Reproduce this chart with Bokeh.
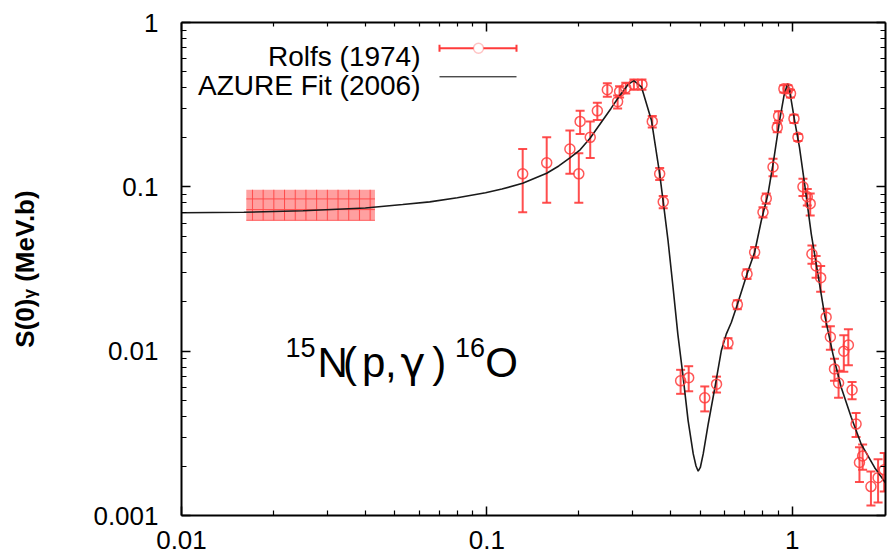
import numpy as np
from bokeh.plotting import figure
from bokeh.models import (ColumnDataSource, Whisker, TeeHead, Label, LogAxis, FixedTicker,
                          CustomJSTickFormatter, Range1d, BoxAnnotation, Arrow)
from bokeh.embed import file_html
from bokeh.resources import INLINE

# ---------------- data ----------------
# Rolfs (1974): centre-of-mass energy (MeV), S-factor (MeV b), error
rolfs_e = [0.131, 0.157, 0.187, 0.200, 0.202, 0.218, 0.230, 0.248, 0.268, 0.272,
           0.285, 0.303, 0.322, 0.348, 0.368, 0.378, 0.431, 0.458, 0.517, 0.565,
           0.616, 0.661, 0.711, 0.753, 0.802, 0.822, 0.865, 0.893, 0.902, 0.939,
           0.968, 0.987, 1.013, 1.044, 1.084, 1.120, 1.145, 1.160, 1.197, 1.239,
           1.291, 1.333, 1.375, 1.418, 1.475, 1.527, 1.570, 1.618, 1.660, 1.700,
           1.810, 1.910, 2.000]
rolfs_s = [0.120, 0.140, 0.170, 0.120, 0.250, 0.200, 0.290, 0.390, 0.330, 0.380,
           0.400, 0.420, 0.420, 0.250, 0.120, 0.081, 0.0066, 0.0069, 0.0052, 0.0063,
           0.0112, 0.0192, 0.0295, 0.040, 0.070, 0.085, 0.132, 0.230, 0.270, 0.395,
           0.395, 0.370, 0.260, 0.200, 0.100, 0.087, 0.079, 0.039, 0.033, 0.028,
           0.0161, 0.0122, 0.0078, 0.0064, 0.0100, 0.0109, 0.0058, 0.0036, 0.0021, 0.0023,
           0.0015, 0.0017, 0.0019]
rolfs_err = [0.050, 0.060, 0.050, 0.040, 0.040, 0.050, 0.035, 0.037, 0.030, 0.030,
             0.030, 0.030, 0.030, 0.020, 0.010, 0.007, 0.0011, 0.0012, 0.0009, 0.0007,
             0.0008, 0.0012, 0.0020, 0.003, 0.005, 0.006, 0.016, 0.015, 0.018, 0.020,
             0.020, 0.020, 0.015, 0.010, 0.012, 0.010, 0.012, 0.005, 0.005, 0.005,
             0.0020, 0.0020, 0.0012, 0.0012, 0.0025, 0.0027, 0.0007, 0.0006, 0.0005, 0.0004,
             0.00035, 0.0005, 0.0005]

# AZURE R-matrix fit (2006)
azure_e = [0.010, 0.016, 0.025, 0.040, 0.053, 0.065, 0.080, 0.099, 0.112, 0.131,
           0.157, 0.172, 0.187, 0.202, 0.218, 0.237, 0.255, 0.270, 0.290, 0.303,
           0.321, 0.346, 0.368, 0.378, 0.392, 0.407, 0.422, 0.438, 0.456, 0.474,
           0.484, 0.492, 0.500, 0.511, 0.531, 0.558, 0.586, 0.608, 0.632, 0.661,
           0.711, 0.753, 0.792, 0.833, 0.869, 0.909, 0.940, 0.965, 0.980, 1.018,
           1.056, 1.097, 1.154, 1.213, 1.275, 1.359, 1.446, 1.560, 1.680, 1.860,
           2.030]
azure_s = [0.0695, 0.0700, 0.0715, 0.0743, 0.078, 0.081, 0.0858, 0.092, 0.097, 0.105,
           0.121, 0.134, 0.150, 0.168, 0.198, 0.247, 0.300, 0.351, 0.420, 0.443,
           0.404, 0.253, 0.120, 0.081, 0.047, 0.0245, 0.0127, 0.00727, 0.00378, 0.00237,
           0.00200, 0.00186, 0.00196, 0.00237, 0.00363, 0.0060, 0.0101, 0.0127, 0.0150, 0.0192,
           0.0295, 0.040, 0.0624, 0.0906, 0.145, 0.253, 0.360, 0.425, 0.386, 0.253,
           0.174, 0.105, 0.0518, 0.0295, 0.0168, 0.0096, 0.00603, 0.00396, 0.00273, 0.00196,
           0.00156]

# extrapolated S(0) band
band_e = [0.0163, 0.0430]
band_s = [0.0621, 0.0959]

x_major = [0.01, 0.1, 1]
y_major = [0.001, 0.01, 0.1, 1]

legend_labels = ["Rolfs (1974)", "AZURE Fit (2006)"]
y_title = "S(0)\u1d67 (MeV.b)"

RED = "#ff3b3b"
FONT = "Liberation Sans"

# ---------------- figure ----------------
p = figure(x_axis_type="log", y_axis_type="log",
           x_range=Range1d(0.01, 2.02), y_range=Range1d(0.001, 1),
           frame_width=704, frame_height=493,
           min_border_left=181, min_border_right=3, min_border_top=22, min_border_bottom=44,
           output_backend="svg", toolbar_location=None)
p.xgrid.visible = False
p.ygrid.visible = False
p.outline_line_color = None
p.background_fill_color = "white"
p.border_fill_color = "white"

def minors(majors, top):
    out = []
    for m in majors:
        for k in range(2, 10):
            v = m * k
            if v < top:
                out.append(v)
    return out

x_ticker = FixedTicker(ticks=x_major, minor_ticks=minors(x_major, 1.99))
y_ticker = FixedTicker(ticks=y_major, minor_ticks=minors(y_major, 1.0))
fmt = CustomJSTickFormatter(code="return tick.toString();")
blank = CustomJSTickFormatter(code="return '';")

def style(ax, labels=True):
    ax.axis_line_width = 2
    ax.axis_line_color = "black"
    ax.major_tick_in = 9
    ax.major_tick_out = 0
    ax.minor_tick_in = 5
    ax.minor_tick_out = 0
    ax.major_tick_line_width = 1.5
    ax.minor_tick_line_width = 1.2
    if labels:
        ax.major_label_text_font = FONT
        ax.major_label_text_font_size = "26px"
        ax.major_label_text_color = "black"
    else:
        ax.major_label_text_font_size = "0px"
        ax.major_label_standoff = 0

p.xaxis.ticker = x_ticker
p.yaxis.ticker = y_ticker
p.xaxis.formatter = fmt
p.yaxis.formatter = fmt
style(p.xaxis[0])
style(p.yaxis[0])
p.xaxis.major_label_standoff = 15
p.yaxis.major_label_standoff = 23
p.yaxis.axis_label = y_title
p.yaxis.axis_label_text_font = FONT
p.yaxis.axis_label_text_font_size = "26px"
p.yaxis.axis_label_text_font_style = "bold"
p.yaxis.axis_label_text_color = "black"
p.yaxis.axis_label_standoff = 50

top_ax = LogAxis(ticker=x_ticker, formatter=blank)
right_ax = LogAxis(ticker=y_ticker, formatter=blank)
style(top_ax, labels=False)
style(right_ax, labels=False)
top_ax.minor_tick_in = 4
p.add_layout(top_ax, "above")
p.add_layout(right_ax, "right")

# band
p.quad(left=band_e[0], right=band_e[1], bottom=band_s[0], top=band_s[1],
       fill_color="#ffa0a0", fill_alpha=1.0, line_color=None,
       hatch_pattern="+", hatch_color="#ff3a3a", hatch_scale=10.7, hatch_weight=1, hatch_alpha=0.85)

# fit curve
p.line(azure_e, azure_s, line_color="#1a1a1a", line_width=1.6)

# data
lo = [s - e for s, e in zip(rolfs_s, rolfs_err)]
hi = [s + e for s, e in zip(rolfs_s, rolfs_err)]
src = ColumnDataSource(dict(x=rolfs_e, y=rolfs_s, lo=lo, hi=hi))
p.add_layout(Whisker(source=src, base="x", lower="lo", upper="hi", dimension="height",
                     line_color=RED, line_width=2, line_alpha=0.9,
                     upper_head=TeeHead(size=9, line_color=RED, line_width=2, line_alpha=0.9),
                     lower_head=TeeHead(size=9, line_color=RED, line_width=2, line_alpha=0.9)))
p.scatter("x", "y", source=src, marker="circle", size=10, fill_color=None,
          line_color=RED, line_width=1.5, line_alpha=0.85)

# ---------------- legend (label left, sample right) ----------------
# frame origin: canvas x=181 (left), canvas y=515 (bottom)
p.add_layout(Label(x=239, y=459, x_units="screen", y_units="screen", text=legend_labels[0],
                   text_align="right", text_baseline="alphabetic",
                   text_font=FONT, text_font_size="28px", text_color="black"))
p.add_layout(Label(x=239, y=430, x_units="screen", y_units="screen", text=legend_labels[1],
                   text_align="right", text_baseline="alphabetic",
                   text_font=FONT, text_font_size="28px", text_color="black"))
leg_src = ColumnDataSource(dict(b=[467.3], l=[258], u=[335]))
p.add_layout(Whisker(source=leg_src, base="b", lower="l", upper="u", dimension="width",
                     base_units="screen", lower_units="screen", upper_units="screen",
                     line_color=RED, line_width=2,
                     upper_head=TeeHead(size=7, line_color=RED, line_width=2),
                     lower_head=TeeHead(size=7, line_color=RED, line_width=2)))
p.add_layout(BoxAnnotation(left=292, right=302, bottom=462.3, top=472.3,
                           left_units="screen", right_units="screen",
                           top_units="screen", bottom_units="screen",
                           border_radius=5, fill_color="white", fill_alpha=1,
                           line_color=RED, line_width=1.5, level="overlay"))
p.add_layout(Arrow(end=None, x_start=258, y_start=438.7, x_end=335, y_end=438.7,
                   start_units="screen", end_units="screen",
                   line_color="black", line_width=1))

# ---------------- reaction label 15N(p,γ)16O ----------------
big = [("N", 136, FONT), ("(", 161.5, FONT), ("p", 180.5, FONT), (",", 203.5, FONT),
       ("γ", 219.0, "DejaVu Sans"), (")", 250.7, FONT), ("O", 303.7, FONT)]
for t, xx, f in big:
    p.add_layout(Label(x=xx, y=152.7, x_units="screen", y_units="screen", text=t,
                       text_baseline="alphabetic", text_font=f, text_font_size="42px",
                       text_color="black"))
for t, xx in [("15", 104.0), ("16", 273.5)]:
    p.add_layout(Label(x=xx, y=168.3, x_units="screen", y_units="screen", text=t,
                       text_baseline="alphabetic", text_font=FONT, text_font_size="27px",
                       text_color="black"))

open("out.html", "w").write(file_html(p, INLINE))
